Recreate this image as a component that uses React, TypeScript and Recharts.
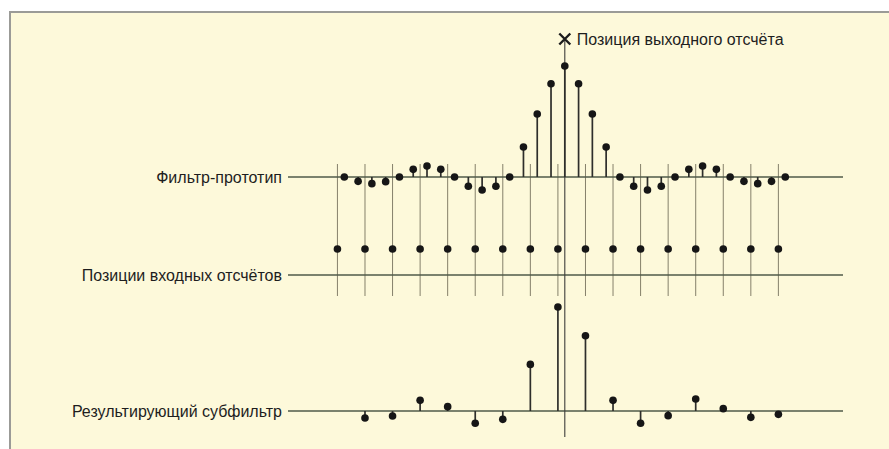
import React from 'react';
import { ComposedChart, Scatter, XAxis, YAxis, ReferenceLine, ErrorBar } from 'recharts';

// ---------- data ----------
const protoIndex = [-16, -15, -14, -13, -12, -11, -10, -9, -8, -7, -6, -5, -4, -3, -2, -1, 0, 1, 2, 3, 4, 5, 6, 7, 8, 9, 10, 11, 12, 13, 14, 15, 16];
const protoValues = [0, -0.039, -0.06, -0.042, 0, 0.069, 0.099, 0.069, 0, -0.084, -0.117, -0.084, 0, 0.27, 0.568, 0.84, 1.0, 0.84, 0.568, 0.27, 0, -0.084, -0.117, -0.084, 0, 0.069, 0.099, 0.069, 0, -0.039, -0.06, -0.039, 0];

const inputPositions = [-16.5, -14.5, -12.5, -10.5, -8.5, -6.5, -4.5, -2.5, -0.5, 1.5, 3.5, 5.5, 7.5, 9.5, 11.5, 13.5, 15.5];
const inputValues = [1, 1, 1, 1, 1, 1, 1, 1, 1, 1, 1, 1, 1, 1, 1, 1, 1];

const subPositions = [-14.5, -12.5, -10.5, -8.5, -6.5, -4.5, -2.5, -0.5, 1.5, 3.5, 5.5, 7.5, 9.5, 11.5, 13.5, 15.5];
const subValues = [-0.063, -0.045, 0.096, 0.039, -0.111, -0.075, 0.42, 0.937, 0.678, 0.096, -0.111, -0.042, 0.108, 0.021, -0.057, -0.03];

const outputPosition = 0;

const rowLabels = ['Фильтр-прототип', 'Позиции входных отсчётов', 'Результирующий субфильтр'];
const titleText = 'Позиция выходного отсчёта';

// ---------- layout ----------
const W = 889;
const H = 449;
const CENTER_PX = 564.8;
const STEP_PX = 13.78;
const xDomain: [number, number] = [(0 - CENTER_PX) / STEP_PX, (W - CENTER_PX) / STEP_PX];
const LINE_START = (288 - CENTER_PX) / STEP_PX;
const LINE_END = (843 - CENTER_PX) / STEP_PX;

const PROTO_BASE = 177, PROTO_PPU = 111;
const INPUT_BASE = 275, INPUT_PPU = 26;
const SUB_BASE = 411, SUB_PPU = 111;

const dom = (base: number, ppu: number): [number, number] => [(base - H) / ppu, base / ppu];

const GUIDE_TOP = (INPUT_BASE - 164) / INPUT_PPU;
const GUIDE_BOTTOM = (INPUT_BASE - 296) / INPUT_PPU;
const OUT_TOP = (PROTO_BASE - 39) / PROTO_PPU;
const OUT_BOTTOM = (PROTO_BASE - 437) / PROTO_PPU;

const withErr = (xs: number[], vs: number[]) =>
  xs.map((x, i) => ({ x, v: vs[i], err: vs[i] >= 0 ? [vs[i], 0] : [0, -vs[i]] }));

const protoData = withErr(protoIndex, protoValues);
const inputData = inputPositions.map((x, i) => ({ x, v: inputValues[i] }));
const subData = withErr(subPositions, subValues);

const DOT = '#161616';
const STEM = '#2e2e2b';
const BASE_COLOR = '#4f5a49';
const GUIDE_COLOR = '#85806a';
const TEXT = '#1e1e1e';
const FONT = '"Liberation Sans", Arial, sans-serif';
const FONT_SIZE = 16;

const Dot = (p: any) => <circle cx={p.cx} cy={p.cy} r={3.8} fill={DOT} />;

const TitleLabel = (p: any) => {
  const vb = p.viewBox || {};
  const x = vb.x ?? 0;
  const y = vb.y ?? 0;
  const s = 5.5;
  return (
    <g>
      <path d={`M${x - s},${y - s}L${x + s},${y + s}M${x + s},${y - s}L${x - s},${y + s}`} stroke="#1c1c1c" strokeWidth={2.4} fill="none" />
      <text x={x + 12} y={y} dy="0.36em" fill={TEXT} fontSize={FONT_SIZE} fontFamily={FONT}>{titleText}</text>
    </g>
  );
};

const labelProps = (value: string) => ({ value, position: 'left' as const, offset: 6, fill: TEXT, fontSize: FONT_SIZE, fontFamily: FONT });

export default function App() {
  return (
    <div style={{ position: 'absolute', left: 0, top: 0, width: W, height: H, background: '#ffffff', overflow: 'hidden', fontFamily: FONT }}>
      <div style={{ position: 'absolute', left: 9, top: 11, width: W, height: H, background: '#fdf9da', border: '2px solid #9b9b97', boxSizing: 'border-box' }} />
      <div style={{ position: 'absolute', left: 0, top: 0 }}>
        <ComposedChart width={W} height={H} margin={{ top: 0, right: 0, bottom: 0, left: 0 }}>
          <XAxis type="number" dataKey="x" domain={xDomain} allowDataOverflow hide />
          <YAxis yAxisId="p" type="number" domain={dom(PROTO_BASE, PROTO_PPU)} allowDataOverflow hide />
          <YAxis yAxisId="i" type="number" domain={dom(INPUT_BASE, INPUT_PPU)} allowDataOverflow hide />
          <YAxis yAxisId="s" type="number" domain={dom(SUB_BASE, SUB_PPU)} allowDataOverflow hide />

          {inputPositions.map((x) => (
            <ReferenceLine key={'g' + x} yAxisId="i" segment={[{ x, y: GUIDE_BOTTOM }, { x, y: GUIDE_TOP }]} stroke={GUIDE_COLOR} strokeWidth={1} ifOverflow="visible" />
          ))}

          <ReferenceLine yAxisId="p" segment={[{ x: LINE_START, y: 0 }, { x: LINE_END, y: 0 }]} stroke={BASE_COLOR} strokeWidth={1.3} ifOverflow="visible"
            label={labelProps(rowLabels[0])} />
          <ReferenceLine yAxisId="i" segment={[{ x: LINE_START, y: 0 }, { x: LINE_END, y: 0 }]} stroke={BASE_COLOR} strokeWidth={1.3} ifOverflow="visible"
            label={labelProps(rowLabels[1])} />
          <ReferenceLine yAxisId="s" segment={[{ x: LINE_START, y: 0 }, { x: LINE_END, y: 0 }]} stroke={BASE_COLOR} strokeWidth={1.3} ifOverflow="visible"
            label={labelProps(rowLabels[2])} />

          <ReferenceLine yAxisId="p" segment={[{ x: outputPosition, y: OUT_BOTTOM }, { x: outputPosition, y: OUT_TOP }]} stroke="#3c3c3a" strokeWidth={1.1} ifOverflow="visible"
            label={{ content: TitleLabel }} />

          <Scatter yAxisId="p" data={protoData} dataKey="v" shape={Dot} isAnimationActive={false}>
            <ErrorBar dataKey="err" direction="y" width={0} stroke={STEM} strokeWidth={1.7} />
          </Scatter>
          <Scatter yAxisId="i" data={inputData} dataKey="v" shape={Dot} isAnimationActive={false} />
          <Scatter yAxisId="s" data={subData} dataKey="v" shape={Dot} isAnimationActive={false}>
            <ErrorBar dataKey="err" direction="y" width={0} stroke={STEM} strokeWidth={1.7} />
          </Scatter>
        </ComposedChart>
      </div>
    </div>
  );
}
